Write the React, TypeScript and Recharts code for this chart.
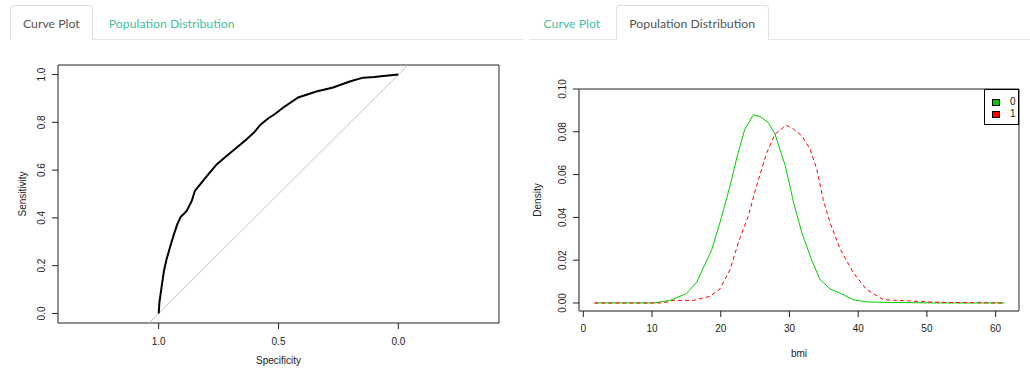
import { Legend, Line, LineChart, ReferenceArea, XAxis, YAxis } from 'recharts';

// ROC curve (specificity is drawn on a reversed axis, as pROC does)
const rocSpecificity = [1, 0.997, 0.988, 0.978, 0.967, 0.953, 0.936, 0.922, 0.908, 0.883, 0.862, 0.849, 0.821, 0.793, 0.758, 0.717, 0.675, 0.633, 0.6, 0.575, 0.545, 0.515, 0.48, 0.418, 0.342, 0.272, 0.203, 0.147, 0.1, 0.062, 0.03, 0];
const rocSensitivity = [0, 0.045, 0.109, 0.178, 0.227, 0.276, 0.332, 0.374, 0.404, 0.429, 0.471, 0.513, 0.548, 0.582, 0.624, 0.659, 0.694, 0.729, 0.76, 0.79, 0.815, 0.835, 0.862, 0.904, 0.929, 0.946, 0.971, 0.987, 0.99, 0.994, 0.997, 1];
const diagSpecificity = [1.04, -0.04];
const diagSensitivity = [-0.04, 1.04];
const rocXTicks = [1, 0.5, 0];
const rocYTicks = [0, 0.2, 0.4, 0.6, 0.8, 1];

// bmi density by outcome
const bmi0 = [1.6, 10.2, 12.6, 15.0, 16.5, 18.7, 20.1, 21.35, 22.4, 23.5, 24.75, 25.7, 26.9, 27.9, 28.5, 29.4, 30.6, 31.8, 33.2, 34.45, 35.9, 37.6, 39.3, 41.25, 43.7, 51.4, 61.3];
const density0 = [0, 0, 0.0012, 0.0044, 0.0097, 0.025, 0.04, 0.0547, 0.0687, 0.0812, 0.088, 0.0872, 0.0844, 0.0789, 0.0728, 0.064, 0.0469, 0.0328, 0.0203, 0.0109, 0.0066, 0.0042, 0.0015, 0.0005, 0.0003, 0, 0];
const bmi1 = [1.6, 11.6, 13.1, 16.0, 18.4, 19.9, 21.35, 22.55, 24.0, 25.2, 26.7, 27.9, 29.5, 30.6, 31.8, 33.0, 33.97, 34.9, 35.9, 37.4, 39.3, 41.25, 43.7, 46.6, 51.4, 61.3];
const density1 = [0, 0, 0.0012, 0.0012, 0.0031, 0.0066, 0.0156, 0.0281, 0.0406, 0.0547, 0.0703, 0.0789, 0.0831, 0.0812, 0.0781, 0.0719, 0.0625, 0.0484, 0.0375, 0.025, 0.0141, 0.0062, 0.0015, 0.0011, 0.0003, 0];
const densXTicks = [0, 10, 20, 30, 40, 50, 60];
const densYTicks = [0, 0.02, 0.04, 0.06, 0.08, 0.1];

const rocRows = rocSpecificity.map((s, i) => ({ spec: s, sens: rocSensitivity[i] }));
const diagRows = diagSpecificity.map((s, i) => ({ spec: s, sens: diagSensitivity[i] }));
const dens0Rows = bmi0.map((b, i) => ({ bmi: b, d: density0[i] }));
const dens1Rows = bmi1.map((b, i) => ({ bmi: b, d: density1[i] }));

const FONT = '"Liberation Sans", Arial, sans-serif';
const TEAL = '#45c1a3';

function RotatedTick(props: any) {
  const { x, y, payload, digits } = props;
  return (
    <text x={x} y={y} transform={`rotate(-90 ${x} ${y})`} textAnchor="middle" fontSize={10} fill="#222" fontFamily={FONT}>
      {Number(payload.value).toFixed(digits)}
    </text>
  );
}

function YTitle(props: any) {
  const { viewBox, text, gap } = props;
  const x = viewBox.x + viewBox.width - gap;
  const y = viewBox.y + viewBox.height / 2;
  return (
    <text x={x} y={y} transform={`rotate(-90 ${x} ${y})`} textAnchor="middle" fontSize={10} fill="#222" fontFamily={FONT}>
      {text}
    </text>
  );
}

function LegendBox(props: any) {
  const items = props.payload ?? [];
  return (
    <div style={{ position: 'relative', width: 35, height: 36, border: '1px solid #000', boxSizing: 'border-box', background: '#fff', fontFamily: FONT, fontSize: 10, color: '#222' }}>
      {items.map((it: any, i: number) => (
        <div key={it.value} style={{ position: 'absolute', left: 7, top: 8 + i * 12, display: 'flex', alignItems: 'center', height: 8 }}>
          <span style={{ width: 6, height: 5, background: it.color, border: '1px solid #000', display: 'inline-block' }} />
          <span style={{ marginLeft: 10, lineHeight: '8px' }}>{it.value}</span>
        </div>
      ))}
    </div>
  );
}

function Tabs({ left, width, active }: { left: number; width: number; active: number }) {
  const labels = ['Curve Plot', 'Population Distribution'];
  return (
    <div style={{ position: 'absolute', left, top: 4, width, height: 36 }}>
      <div style={{ position: 'absolute', left: 0, right: 0, top: 35, height: 1, background: '#e6e6e6' }} />
      <div style={{ position: 'absolute', left: 0, top: 0, display: 'flex', fontFamily: 'Lato, sans-serif', fontSize: 12.3 }}>
        {labels.map((l, i) => (
          <div
            key={l}
            style={{
              height: 35,
              boxSizing: 'border-box',
              padding: '0 12.5px',
              marginRight: 2,
              lineHeight: '35px',
              borderRadius: '4px 4px 0 0',
              border: i === active ? '1px solid #e0e0e0' : '1px solid transparent',
              borderBottom: i === active ? '1px solid #fff' : '1px solid transparent',
              background: i === active ? '#fff' : 'transparent',
              color: i === active ? '#555' : TEAL,
              position: 'relative',
              top: 1,
            }}
          >
            {l}
          </div>
        ))}
      </div>
    </div>
  );
}

export default function App() {
  return (
    <div style={{ position: 'absolute', left: 0, top: 0, width: 1030, height: 369, background: '#fff', overflow: 'hidden' }}>
      <Tabs left={9.5} width={514.5} active={0} />
      <Tabs left={530} width={500} active={1} />

      <div style={{ position: 'absolute', left: 0, top: 0 }}>
        <LineChart width={524} height={369} margin={{ top: 65, right: 25, bottom: 16, left: 18 }} style={{ fontFamily: FONT }}>
          <XAxis
            dataKey="spec"
            type="number"
            domain={[-0.42, 1.42]}
            reversed
            allowDataOverflow
            ticks={rocXTicks}
            tickFormatter={(v) => Number(v).toFixed(1)}
            tick={{ fontSize: 10, fill: '#222' }}
            tickLine={{ stroke: '#222' }}
            axisLine={false}
            tickSize={6}
            tickMargin={9}
            height={30}
            label={{ value: 'Specificity', position: 'bottom', offset: 4, fontSize: 10, fill: '#222' }}
          />
          <YAxis
            dataKey="sens"
            type="number"
            domain={[-0.04, 1.04]}
            allowDataOverflow
            ticks={rocYTicks}
            tick={(p: any) => <RotatedTick {...p} digits={1} />}
            tickLine={{ stroke: '#222' }}
            axisLine={false}
            tickSize={6}
            tickMargin={7}
            width={40}
            label={<YTitle text="Sensitivity" gap={32} />}
          />
          <ReferenceArea x1={-0.42} x2={1.42} y1={-0.04} y2={1.04} fill="none" stroke="#222" strokeWidth={1} ifOverflow="visible" />
          <Line data={diagRows} dataKey="sens" type="linear" stroke="#c4c4c4" strokeWidth={1} dot={false} isAnimationActive={false} />
          <Line data={rocRows} dataKey="sens" type="linear" stroke="#000" strokeWidth={2} dot={false} isAnimationActive={false} />
        </LineChart>
      </div>

      <div style={{ position: 'absolute', left: 520, top: 0 }}>
        <LineChart width={510} height={369} margin={{ top: 89, right: 11, bottom: 28, left: 19 }} style={{ fontFamily: FONT }}>
          <XAxis
            dataKey="bmi"
            type="number"
            domain={[-0.63, 63.4]}
            allowDataOverflow
            ticks={densXTicks}
            tick={{ fontSize: 10, fill: '#222' }}
            tickLine={{ stroke: '#222' }}
            axisLine={{ stroke: '#888', strokeWidth: 1.5 }}
            tickSize={6}
            tickMargin={8}
            height={30}
            label={{ value: 'bmi', position: 'bottom', offset: 9, fontSize: 10, fill: '#222' }}
          />
          <YAxis
            type="number"
            domain={[-0.00375, 0.1]}
            allowDataOverflow
            ticks={densYTicks}
            tick={(p: any) => <RotatedTick {...p} digits={2} />}
            tickLine={{ stroke: '#222' }}
            axisLine={{ stroke: '#888', strokeWidth: 1.5 }}
            tickSize={6}
            tickMargin={7}
            width={40}
            label={<YTitle text="Density" gap={38} />}
          />
          <ReferenceArea x1={-0.63} x2={63.4} y1={-0.00375} y2={0.1} fill="none" stroke="#222" strokeWidth={1} ifOverflow="visible" />
          <Line data={dens0Rows} dataKey="d" name="0" type="linear" stroke="#00CD00" strokeWidth={1} dot={false} isAnimationActive={false} />
          <Line data={dens1Rows} dataKey="d" name="1" type="linear" stroke="#FF0000" strokeWidth={1} strokeDasharray="4 3" dot={false} isAnimationActive={false} />
          <Legend
            layout="vertical"
            align="center"
            verticalAlign="middle"
            content={(p: any) => <LegendBox {...p} />}
            wrapperStyle={{ position: 'absolute', left: 464, top: 89, width: 35, height: 36 }}
          />
        </LineChart>
      </div>
    </div>
  );
}
